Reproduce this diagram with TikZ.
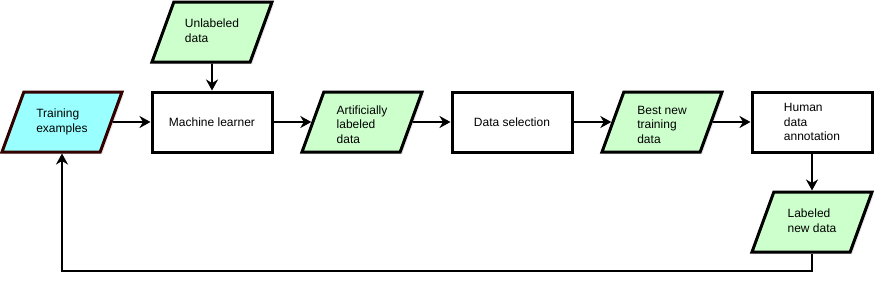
\documentclass[tikz,border=0pt]{standalone}
\usepackage{fontspec}
\setmainfont{Liberation Sans}
\usetikzlibrary{shapes.geometric,shadows,arrows.meta}

\definecolor{datagreen}{RGB}{204,255,204}
\definecolor{traincyan}{RGB}{153,255,255}
\definecolor{trainborder}{RGB}{51,0,0}

% texte de hauteur fixe pour les parallelogrammes
\newcommand{\datatext}[1]{\vbox to 36pt{\vfil\hbox{\begin{tabular}{@{}l@{}}#1\end{tabular}}\vfil}}

\begin{document}
\begin{tikzpicture}[x=1pt, y=-1pt,
    box/.style={draw, line width=3pt, fill=white, minimum width=120pt, minimum height=60pt,
        align=left, font=\fontsize{12}{14.5}\selectfont,
        drop shadow={shadow xshift=2pt, shadow yshift=-2pt, opacity=0.2}},
    datafile/.style={box, trapezium, trapezium left angle=70, trapezium right angle=110,
        trapezium stretches body, inner ysep=12pt, minimum height=0pt, fill=datagreen},
    arr/.style={-{Stealth[length=11pt, width=12pt, inset=3.5pt]}, line width=1.8pt}]
    \useasboundingbox (0,0) rectangle (879,287);

    % Entrees
    \node[datafile, draw=trainborder, fill=traincyan] (train) at (62,122) {\datatext{Training\\examples}};
    \node[datafile] (unlabeled) at (212,32) {\datatext{Unlabeled\\data}};

    % Chaine principale
    \node[box] (learner) at (212,122) {Machine learner};
    \node[datafile] (artificial) at (362,122) {\datatext{Artificially\\labeled\\data}};
    \node[box] (selection) at (512,122) {Data selection};
    \node[datafile] (bestnew) at (662,122) {\datatext{Best new\\training\\data}};
    \node[box] (annotation) at (812,122) {Human\\data\\annotation};
    \node[datafile] (labeled) at (812,222) {\datatext{Labeled\\new data}};

    % Retour
    \coordinate (back) at (812,271);

    % Fleches
    \draw[arr] (train) -- (learner);
    \draw[arr] (unlabeled) -- (learner);
    \draw[arr] (learner) -- (artificial);
    \draw[arr] (artificial) -- (selection);
    \draw[arr] (selection) -- (bestnew);
    \draw[arr] (bestnew) -- (annotation);
    \draw[arr] (annotation) -- (labeled);
    \draw[arr] (labeled) -- (back) -| (train);

\end{tikzpicture}
\end{document}
